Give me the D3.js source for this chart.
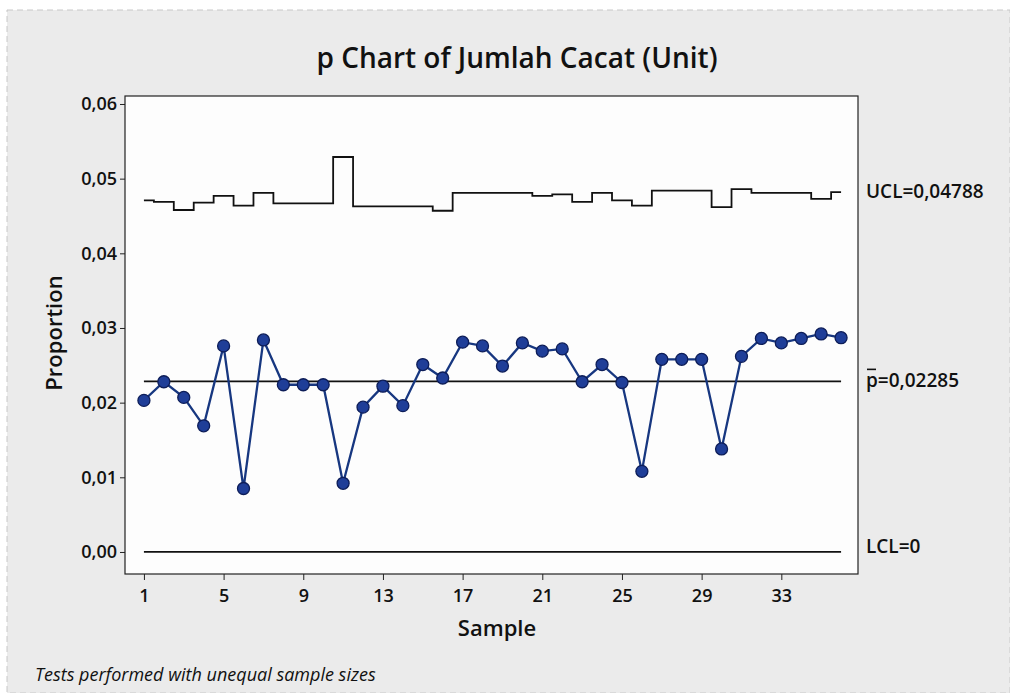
<!DOCTYPE html>
<html>
<head>
<meta charset="utf-8">
<script src="https://cdn.jsdelivr.net/npm/d3@7"></script>
<style>
  body { margin: 0; background: #fff; }
  text { font-family: "Open Sans", sans-serif; fill: #111; }
</style>
</head>
<body>
<div id="chart"></div>
<script>
// proportion defective per sample
const proportions = [0.0203, 0.0228, 0.0207, 0.0169, 0.0276, 0.0085, 0.0284, 0.0224, 0.0224, 0.0224,
                     0.0092, 0.0194, 0.0222, 0.0196, 0.0251, 0.0233, 0.0281, 0.0276, 0.0249, 0.0280,
                     0.0269, 0.0272, 0.0228, 0.0251, 0.0227, 0.0108, 0.0258, 0.0258, 0.0258, 0.0138,
                     0.0262, 0.0286, 0.0280, 0.0286, 0.0292, 0.0287];

// upper control limit per sample (unequal sample sizes)
const ucl = [0.0471, 0.0469, 0.0458, 0.0468, 0.0477, 0.0464, 0.0481, 0.0467, 0.0467, 0.0467,
             0.0529, 0.0463, 0.0463, 0.0463, 0.0463, 0.0457, 0.0481, 0.0481, 0.0481, 0.0481,
             0.0477, 0.0479, 0.0469, 0.0481, 0.0471, 0.0464, 0.0484, 0.0484, 0.0484, 0.0462,
             0.0486, 0.0481, 0.0481, 0.0481, 0.0473, 0.0482];

const pBar = 0.02285;
const lcl = 0;

const xTicks = [1, 5, 9, 13, 17, 21, 25, 29, 33];
const yTicks = [0, 0.01, 0.02, 0.03, 0.04, 0.05, 0.06];
const limitLabels = ["UCL=0,04788", "p=0,02285", "LCL=0"];

const W = 1010, H = 693;
const margin = {top: 96, right: 152, bottom: 119, left: 125},
      width = W - margin.left - margin.right,
      height = H - margin.top - margin.bottom;

const svg = d3.select("#chart")
  .append("svg")
    .attr("width", W)
    .attr("height", H);

// paper background
svg.append("rect")
    .attr("x", 7).attr("y", 10)
    .attr("width", W - 7).attr("height", H - 10)
    .attr("fill", "#ebebeb")
    .attr("stroke", "#c8c8c8")
    .attr("stroke-dasharray", "6,4");

const g = svg.append("g")
    .attr("transform", `translate(${margin.left},${margin.top})`);

const x = d3.scaleLinear()
    .domain([0.05, 36.85])
    .range([0, width]);

const y = d3.scaleLinear()
    .domain([-0.00295, 0.06107])
    .range([height, 0]);

// plot area
g.append("rect")
    .attr("width", width)
    .attr("height", height)
    .attr("fill", "#fdfdfd")
    .attr("stroke", "#222")
    .attr("stroke-width", 1.2);

// Y axis
const yAxis = g.append("g")
    .call(d3.axisLeft(y)
      .tickValues(yTicks)
      .tickSize(5)
      .tickFormat(d => d3.format(".2f")(d).replace(".", ",")));
yAxis.select(".domain").remove();
yAxis.selectAll("line").attr("stroke", "#222");
yAxis.selectAll("text")
    .attr("font-family", "Open Sans")
    .attr("font-size", 18)
    .attr("font-weight", 600)
    .attr("fill", "#111");

// X axis
const xAxis = g.append("g")
    .attr("transform", `translate(0,${height})`)
    .call(d3.axisBottom(x).tickValues(xTicks).tickSize(6).tickPadding(9));
xAxis.select(".domain").remove();
xAxis.selectAll("line").attr("stroke", "#222");
xAxis.selectAll("text")
    .attr("font-family", "Open Sans")
    .attr("font-size", 18)
    .attr("font-weight", 600)
    .attr("fill", "#111");

// control limits
const stepLine = d3.line()
    .x((d, i) => x(i + 1))
    .y(d => y(d))
    .curve(d3.curveStep);

g.append("path")
    .datum(ucl)
    .attr("d", stepLine)
    .attr("fill", "none")
    .attr("stroke", "#111")
    .attr("stroke-width", 1.8);

[pBar, lcl].forEach(v => {
  g.append("line")
      .attr("x1", x(1)).attr("x2", x(proportions.length))
      .attr("y1", y(v)).attr("y2", y(v))
      .attr("stroke", "#111")
      .attr("stroke-width", 1.8);
});

// data line + points
const dataLine = d3.line()
    .x((d, i) => x(i + 1))
    .y(d => y(d));

g.append("path")
    .datum(proportions)
    .attr("d", dataLine)
    .attr("fill", "none")
    .attr("stroke", "#173780")
    .attr("stroke-width", 2.3);

g.selectAll(".pt")
  .data(proportions)
  .enter().append("circle")
    .attr("class", "pt")
    .attr("cx", (d, i) => x(i + 1))
    .attr("cy", d => y(d))
    .attr("r", 6)
    .attr("fill", "#1f3e98")
    .attr("stroke", "#0d1d58")
    .attr("stroke-width", 1.3);

// limit labels on the right
const labelYs = [ucl[ucl.length - 1], pBar, lcl];
limitLabels.forEach((t, i) => {
  g.append("text")
      .attr("x", width + 8)
      .attr("y", y(labelYs[i]))
      .attr("dy", i === 2 ? "0.05em" : "0.3em")
      .attr("font-size", 19)
      .attr("font-weight", 600)
      .text(t);
  if (i === 1) {
    // bar over the p
    g.append("line")
        .attr("x1", width + 9).attr("x2", width + 18)
        .attr("y1", y(pBar) - 12).attr("y2", y(pBar) - 12)
        .attr("stroke", "#111")
        .attr("stroke-width", 1.6);
  }
});

// titles
svg.append("text")
    .attr("x", 517)
    .attr("y", 68)
    .attr("text-anchor", "middle")
    .attr("font-size", 28)
    .attr("font-weight", 600)
    .text("p Chart of Jumlah Cacat (Unit)");

svg.append("text")
    .attr("transform", `translate(62,${margin.top + height / 2 - 2}) rotate(-90)`)
    .attr("text-anchor", "middle")
    .attr("font-size", 22)
    .attr("font-weight", 600)
    .text("Proportion");

svg.append("text")
    .attr("x", 497)
    .attr("y", 636)
    .attr("text-anchor", "middle")
    .attr("font-size", 22)
    .attr("font-weight", 600)
    .text("Sample");

svg.append("text")
    .attr("x", 35)
    .attr("y", 681)
    .attr("font-size", 18)
    .attr("font-style", "italic")
    .text("Tests performed with unequal sample sizes");
</script>
</body>
</html>
